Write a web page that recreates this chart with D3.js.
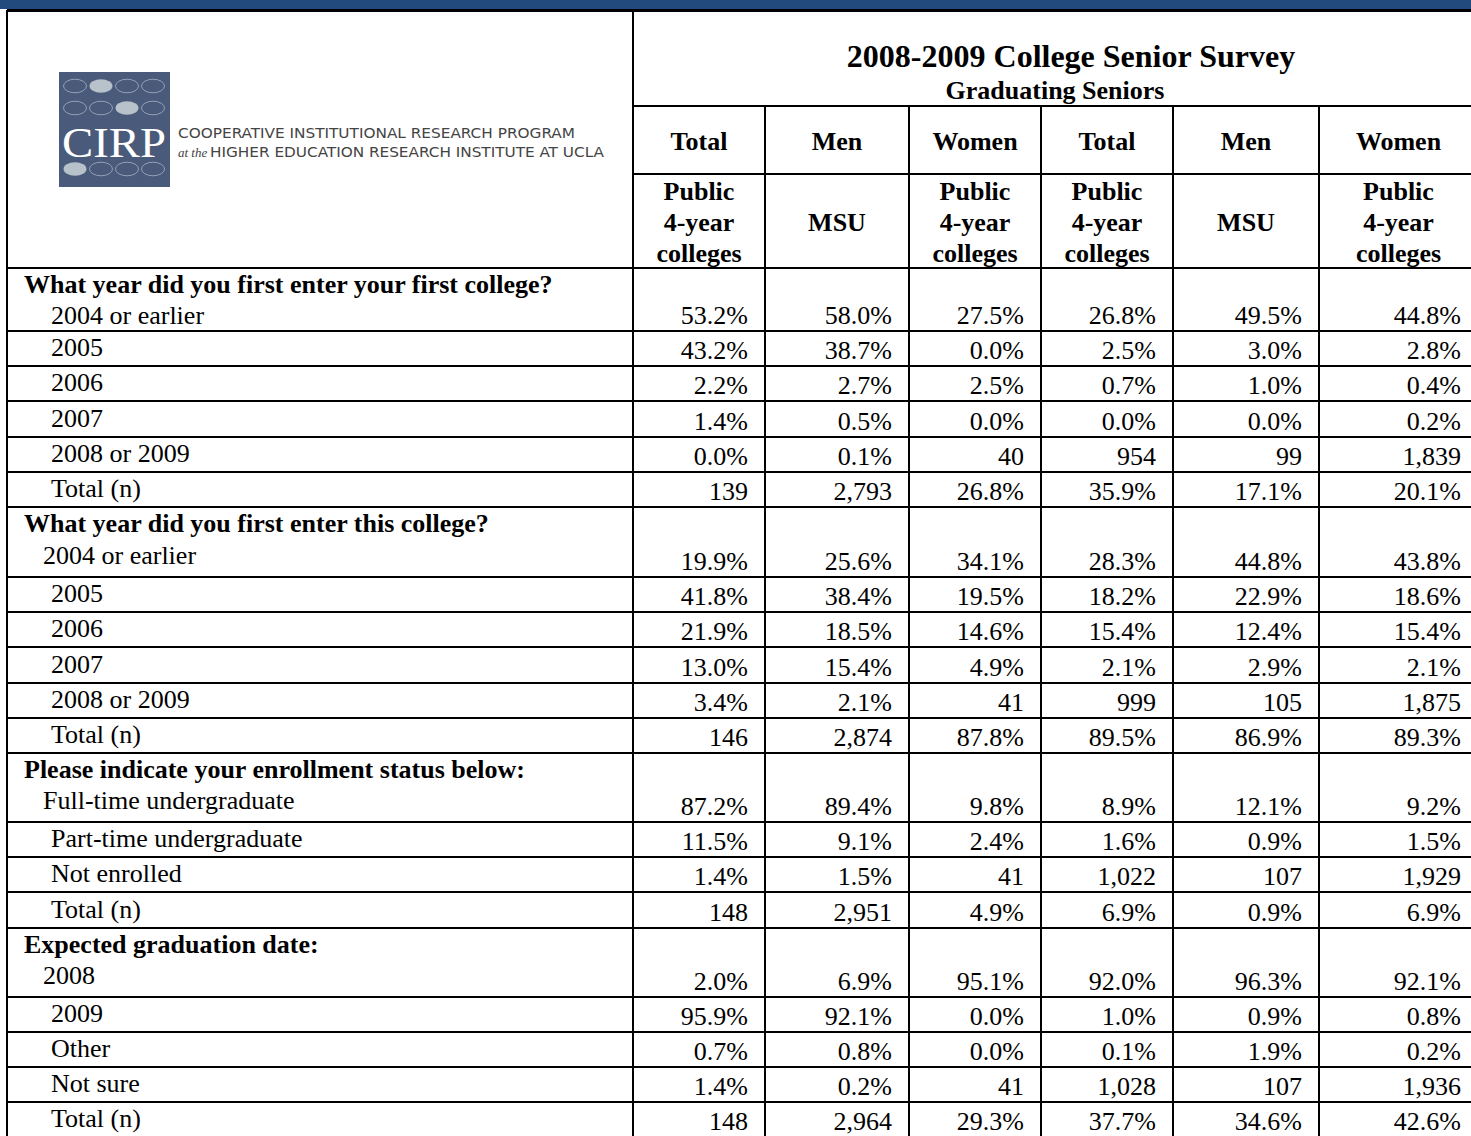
<!DOCTYPE html>
<html>
<head>
<meta charset="utf-8">
<script src="https://cdn.jsdelivr.net/npm/d3@7"></script>
<style>
  body { margin: 0; background: #fff; overflow: hidden; }
  svg { display: block; }
  text { font-family: "Liberation Serif", "Times New Roman", serif; fill: #000; }
</style>
</head>
<body>
<div id="wrapper"></div>
<script>
// ---- data ----
const title = "2008-2009 College Senior Survey"
const subtitle = "Graduating Seniors"
const groups = ["Total", "Men", "Women", "Total", "Men", "Women"]
const compare = [
  ["Public", "4-year", "colleges"], ["MSU"], ["Public", "4-year", "colleges"],
  ["Public", "4-year", "colleges"], ["MSU"], ["Public", "4-year", "colleges"]
]

const questions = [
  "What year did you first enter your first college?",
  "What year did you first enter this college?",
  "Please indicate your enrollment status below:",
  "Expected graduation date:"
]

const firstCollegeLabels = ["2004 or earlier", "2005", "2006", "2007", "2008 or 2009", "Total (n)"]
const firstCollegeValues = [
  ["53.2%", "58.0%", "27.5%", "26.8%", "49.5%", "44.8%"],
  ["43.2%", "38.7%", "0.0%", "2.5%", "3.0%", "2.8%"],
  ["2.2%", "2.7%", "2.5%", "0.7%", "1.0%", "0.4%"],
  ["1.4%", "0.5%", "0.0%", "0.0%", "0.0%", "0.2%"],
  ["0.0%", "0.1%", "40", "954", "99", "1,839"],
  ["139", "2,793", "26.8%", "35.9%", "17.1%", "20.1%"]
]

const thisCollegeLabels = ["2004 or earlier", "2005", "2006", "2007", "2008 or 2009", "Total (n)"]
const thisCollegeValues = [
  ["19.9%", "25.6%", "34.1%", "28.3%", "44.8%", "43.8%"],
  ["41.8%", "38.4%", "19.5%", "18.2%", "22.9%", "18.6%"],
  ["21.9%", "18.5%", "14.6%", "15.4%", "12.4%", "15.4%"],
  ["13.0%", "15.4%", "4.9%", "2.1%", "2.9%", "2.1%"],
  ["3.4%", "2.1%", "41", "999", "105", "1,875"],
  ["146", "2,874", "87.8%", "89.5%", "86.9%", "89.3%"]
]

const enrollmentLabels = ["Full-time undergraduate", "Part-time undergraduate", "Not enrolled", "Total (n)"]
const enrollmentValues = [
  ["87.2%", "89.4%", "9.8%", "8.9%", "12.1%", "9.2%"],
  ["11.5%", "9.1%", "2.4%", "1.6%", "0.9%", "1.5%"],
  ["1.4%", "1.5%", "41", "1,022", "107", "1,929"],
  ["148", "2,951", "4.9%", "6.9%", "0.9%", "6.9%"]
]

const graduationLabels = ["2008", "2009", "Other", "Not sure", "Total (n)"]
const graduationValues = [
  ["2.0%", "6.9%", "95.1%", "92.0%", "96.3%", "92.1%"],
  ["95.9%", "92.1%", "0.0%", "1.0%", "0.9%", "0.8%"],
  ["0.7%", "0.8%", "0.0%", "0.1%", "1.9%", "0.2%"],
  ["1.4%", "0.2%", "41", "1,028", "107", "1,936"],
  ["148", "2,964", "29.3%", "37.7%", "34.6%", "42.6%"]
]

const sections = [
  { question: questions[0], labels: firstCollegeLabels, values: firstCollegeValues },
  { question: questions[1], labels: thisCollegeLabels, values: thisCollegeValues },
  { question: questions[2], labels: enrollmentLabels, values: enrollmentValues },
  { question: questions[3], labels: graduationLabels, values: graduationValues }
]

// ---- layout ----
const width = 1471
const height = 1136
const dims = {
  left: 7, top: 10, labelRight: 633, titleBottom: 106, groupBottom: 174,
  headBottom: 268, right: 1478
}
const colKeys = d3.range(groups.length)
const colEdges = [633, 765, 909, 1041, 1173, 1319, 1478]
const xLeft = d3.scaleOrdinal(colKeys, colEdges.slice(0, -1))
const xRight = d3.scaleOrdinal(colKeys, colEdges.slice(1))
const xMid = k => (xLeft(k) + xRight(k)) / 2

const firstRowHeights = [63, 70, 69, 69]
const firstLabelLift = [7, 13, 13, 13]
const rowHeight = 35.2

const rows = []
sections.forEach((s, si) => {
  s.labels.forEach((label, i) => {
    rows.push({
      section: si, i, label,
      values: s.values[i],
      question: i === 0 ? s.question : null,
      h: i === 0 ? firstRowHeights[si] : rowHeight,
      lift: i === 0 ? firstLabelLift[si] : 10,
      indent: i === 0 && si > 0 ? 43 : 51
    })
  })
})
const tops = d3.cumsum([dims.headBottom, ...rows.map(d => d.h)])
rows.forEach((r, i) => { r.y0 = tops[i]; r.y1 = tops[i + 1] })

const svg = d3.select("#wrapper")
  .append("svg")
  .attr("width", width)
  .attr("height", height)

// blue band across the top
svg.append("rect")
  .attr("x", 0).attr("y", 0)
  .attr("width", width).attr("height", 9)
  .attr("fill", "#224a7c")

// ---- logo ----
const logo = svg.append("g")
logo.append("rect")
  .attr("x", 59).attr("y", 72)
  .attr("width", 111).attr("height", 115)
  .attr("fill", "#4a5a7a")

const ovalRows = [
  { cy: 86, filled: 1 },
  { cy: 108, filled: 2 },
  { cy: 169, filled: 0 }
]
const ovalX = [75, 101, 127, 153]
ovalRows.forEach(r => {
  logo.selectAll(null)
    .data(ovalX)
    .join("ellipse")
    .attr("cx", d => d)
    .attr("cy", r.cy)
    .attr("rx", 11.5)
    .attr("ry", 6.8)
    .attr("fill", (d, i) => i === r.filled ? "#b8c2cb" : "none")
    .attr("stroke", (d, i) => i === r.filled ? "none" : "#93a0b6")
    .attr("stroke-width", 1)
})
logo.append("text")
  .attr("x", 62).attr("y", 157)
  .attr("textLength", 104)
  .attr("lengthAdjust", "spacingAndGlyphs")
  .style("font-size", "43px")
  .style("fill", "#fff")
  .text("CIRP")

logo.append("text")
  .attr("x", 178).attr("y", 138)
  .attr("textLength", 397)
  .attr("lengthAdjust", "spacingAndGlyphs")
  .style("font-family", "'DejaVu Sans Condensed', 'DejaVu Sans', sans-serif")
  .style("font-size", "14px")
  .style("fill", "#444")
  .text("COOPERATIVE INSTITUTIONAL RESEARCH PROGRAM")
logo.append("text")
  .attr("x", 178).attr("y", 157)
  .style("font-style", "italic")
  .style("font-size", "13px")
  .style("fill", "#444")
  .text("at the")
logo.append("text")
  .attr("x", 210).attr("y", 157)
  .attr("textLength", 394)
  .attr("lengthAdjust", "spacingAndGlyphs")
  .style("font-family", "'DejaVu Sans Condensed', 'DejaVu Sans', sans-serif")
  .style("font-size", "14px")
  .style("fill", "#444")
  .text("HIGHER EDUCATION RESEARCH INSTITUTE AT UCLA")

// ---- header text ----
svg.append("text")
  .attr("x", 1071).attr("y", 67)
  .attr("text-anchor", "middle")
  .style("font-size", "32px").style("font-weight", "bold")
  .text(title)
svg.append("text")
  .attr("x", 1055).attr("y", 99)
  .attr("text-anchor", "middle")
  .style("font-size", "26px").style("font-weight", "bold")
  .text(subtitle)

svg.append("g")
  .selectAll("text")
  .data(groups)
  .join("text")
  .attr("x", (d, i) => xMid(i))
  .attr("y", 150)
  .attr("text-anchor", "middle")
  .style("font-size", "26px").style("font-weight", "bold")
  .text(d => d)

const compareG = svg.append("g")
  .selectAll("text")
  .data(compare)
  .join("text")
  .attr("text-anchor", "middle")
  .style("font-size", "26px").style("font-weight", "bold")
compareG.selectAll("tspan")
  .data((d, i) => d.map((t, j) => ({ t, j, n: d.length, col: i })))
  .join("tspan")
  .attr("x", d => xMid(d.col))
  .attr("y", d => d.n === 1 ? 231 : 200 + d.j * 31)
  .text(d => d.t)

// ---- body rows ----
const body = svg.append("g")
const rowG = body.selectAll("g")
  .data(rows)
  .join("g")

rowG.filter(d => d.question)
  .append("text")
  .attr("x", 24)
  .attr("y", d => d.y0 + 25)
  .style("font-size", "26px").style("font-weight", "bold")
  .text(d => d.question)

rowG.append("text")
  .attr("x", d => d.indent)
  .attr("y", d => d.y1 - d.lift)
  .style("font-size", "26px")
  .text(d => d.label)

rowG.selectAll(".val")
  .data(d => d.values.map((v, k) => ({ v, k, y1: d.y1 })))
  .join("text")
  .attr("class", "val")
  .attr("x", d => xRight(d.k) - 17)
  .attr("y", d => d.y1 - 7)
  .attr("text-anchor", "end")
  .style("font-size", "26px")
  .text(d => d.v)

// ---- grid lines ----
const lines = svg.append("g")
  .attr("stroke", "#000")
  .attr("stroke-width", 2)
  .attr("shape-rendering", "crispEdges")

const hLines = [
  { y: dims.titleBottom, x1: dims.labelRight, x2: width },
  { y: dims.groupBottom, x1: dims.labelRight, x2: width },
  { y: dims.headBottom, x1: dims.left, x2: width },
  ...rows.map(r => ({ y: r.y1, x1: dims.left, x2: width }))
]
lines.selectAll(".h")
  .data(hLines)
  .join("line")
  .attr("class", "h")
  .attr("x1", d => d.x1).attr("x2", d => d.x2)
  .attr("y1", d => d.y).attr("y2", d => d.y)

const vLines = [
  { x: dims.left, y1: dims.top, y2: height },
  { x: dims.labelRight, y1: dims.top, y2: height },
  ...colKeys.slice(1).map(k => ({ x: xLeft(k), y1: dims.titleBottom, y2: height }))
]
lines.selectAll(".v")
  .data(vLines)
  .join("line")
  .attr("class", "v")
  .attr("x1", d => d.x).attr("x2", d => d.x)
  .attr("y1", d => d.y1).attr("y2", d => d.y2)

// heavier top border under the blue band
lines.append("line")
  .attr("x1", dims.left).attr("x2", width)
  .attr("y1", dims.top).attr("y2", dims.top)
  .attr("stroke-width", 3)
</script>
</body>
</html>
